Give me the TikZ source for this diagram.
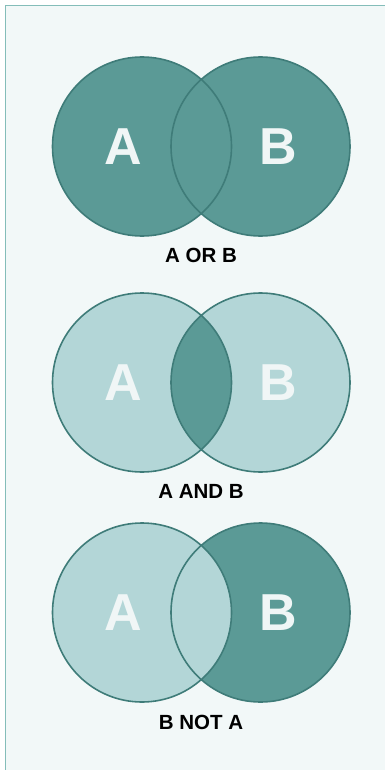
\documentclass[tikz,border=0pt]{standalone}
\usepackage{fontspec}
\setmainfont{Liberation Sans}
\usepackage{xcolor}
\usepackage{tikz}

\definecolor{setdark}{HTML}{5B9A96}
\definecolor{setlight}{HTML}{B3D6D7}
\definecolor{setedge}{HTML}{3F7C79}
\definecolor{letterwhite}{HTML}{F0F6F6}
\definecolor{panelbg}{HTML}{F2F8F8}
\definecolor{panelframe}{HTML}{84BDB9}

\begin{document}
\begin{tikzpicture}[x=1pt,y=-1pt,
  setline/.style={draw=setedge,line width=1.6pt},
  letter/.style={text=letterwhite,inner sep=0pt,
    font=\fontsize{52}{52}\selectfont\bfseries},
  caption/.style={text=black,inner sep=0pt,
    font=\fontsize{20.5}{22}\selectfont\bfseries}
]
\useasboundingbox (0,0) rectangle (385,770);
\fill[white] (0,0) rectangle (385,770);
\draw[fill=panelbg,draw=panelframe,line width=1.3pt] (5.5,5.5) rectangle (400,790);

% A OR B
\coordinate (orA) at (142,146.5);
\coordinate (orB) at (260.5,146.5);
\fill[setdark] (orA) circle (89.5) (orB) circle (89.5);
\draw[setline] (orA) circle (89.5) (orB) circle (89.5);
\node[letter] (orAtxt) at (123,146.5) {A};
\node[letter] (orBtxt) at (278,146.5) {B};
\node[caption] (orcap) at (201,255) {A OR B};

% A AND B
\coordinate (andA) at (142,382.5);
\coordinate (andB) at (260.5,382.5);
\fill[setlight] (andA) circle (89.5) (andB) circle (89.5);
\begin{scope}
  \clip (andA) circle (89.5);
  \fill[setdark] (andB) circle (89.5);
\end{scope}
\draw[setline] (andA) circle (89.5) (andB) circle (89.5);
\node[letter] (andAtxt) at (123,382.5) {A};
\node[letter] (andBtxt) at (278,382.5) {B};
\node[caption] (andcap) at (201,491) {A AND B};

% B NOT A
\coordinate (notA) at (142,612.5);
\coordinate (notB) at (260.5,612.5);
\fill[setdark] (notB) circle (89.5);
\fill[setlight] (notA) circle (89.5);
\draw[setline] (notA) circle (89.5) (notB) circle (89.5);
\node[letter] (notAtxt) at (123,612.5) {A};
\node[letter] (notBtxt) at (278,612.5) {B};
\node[caption] (notcap) at (201,722) {B NOT A};

\end{tikzpicture}
\end{document}
